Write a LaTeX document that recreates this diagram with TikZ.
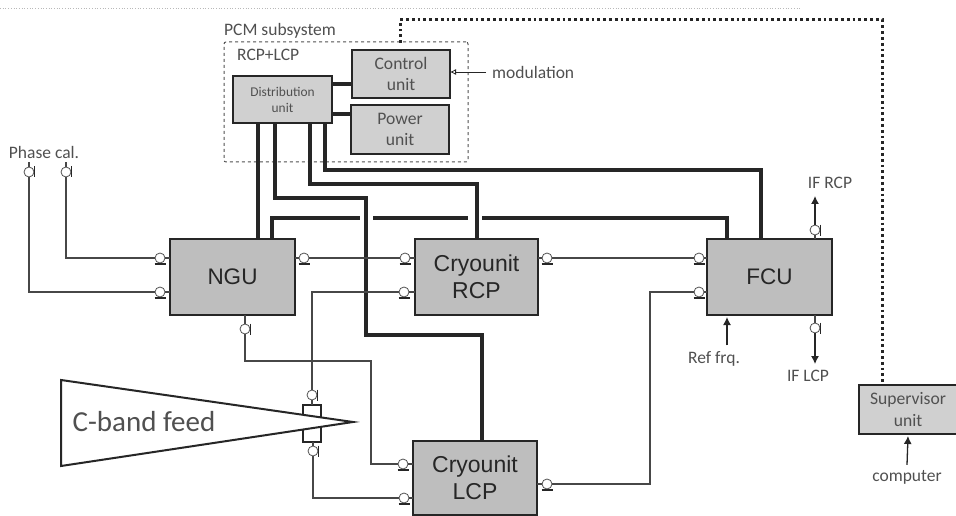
\documentclass[tikz,border=0pt]{standalone}
\usepackage{fontspec}
\setmainfont{Carlito}
\newfontfamily\boxfont{Liberation Sans}
\usetikzlibrary{arrows.meta,positioning,calc}
\definecolor{unitfill}{RGB}{190,190,190}
\definecolor{subfill}{RGB}{208,208,208}
\definecolor{inkdark}{RGB}{38,38,38}
\definecolor{labelgray}{RGB}{80,80,80}

\begin{document}
\begin{tikzpicture}[x=1pt,y=-1pt,
  unit/.style={draw=inkdark, fill=unitfill, line width=2.5pt, outer sep=0pt, align=center,
               font=\boxfont\fontsize{23}{27}\selectfont, text=inkdark, minimum height=76pt, minimum width=125pt},
  subunit/.style={draw=inkdark, fill=subfill, line width=2.5pt, outer sep=0pt, align=center,
               font=\fontsize{17.6}{21.5}\selectfont, text=labelgray, minimum height=48pt, minimum width=98pt},
  lbl/.style={font=\fontsize{17.5}{20}\selectfont, text=labelgray, inner sep=0pt},
  port/.style={circle, draw=inkdark!80, fill=white, line width=.8pt, inner sep=0pt, minimum size=10pt},
  portbar/.style={draw=inkdark, line width=1.3pt},
  bus/.style={draw=inkdark, line width=4pt, line join=miter},
  sig/.style={draw=inkdark!85, line width=1.3pt},
  arr/.style={-{Latex[length=8pt,width=8pt]}, draw=inkdark, line width=1.3pt}
]
  \useasboundingbox (0,0) rectangle (956,516);
  \draw[gray!55, line width=.7pt, dotted] (0,8) -- (800,8);

  % subsystem
  \node[draw=labelgray, dashed, line width=1pt, rounded corners=2pt, minimum width=244pt, minimum height=120pt] (pcm) at (346,102) {};
  \node[lbl, anchor=west] (pcmtxt) at (224,31) {PCM subsystem};
  \node[lbl, anchor=west] (rcplcp) at (237,55) {RCP+LCP};
  \node[subunit, minimum width=99pt, minimum height=47pt, font=\fontsize{13.4}{16}\selectfont] (dist) at (282.5,99.5) {Distribution\\unit};
  \node[subunit, right=20pt of dist, yshift=25.5pt] (ctrl) {Control\\unit};
  \node[subunit, below=7pt of ctrl, minimum height=49pt, xshift=-1pt] (power) {Power\\unit};
  \node[lbl, anchor=west] (modu) at (492,72) {modulation};

  % main units
  \node[unit, font=\boxfont\fontsize{22.5}{27}\selectfont] (ngu) at (232.5,277) {NGU};
  \node[unit, right=120pt of ngu, minimum width=123pt] (rcp) {Cryounit\\RCP};
  \node[unit, right=169pt of rcp, font=\boxfont\fontsize{22.5}{27}\selectfont] (fcu) {FCU};
  \node[unit, below=126pt of rcp, xshift=-1.5pt, minimum width=124pt, minimum height=74pt] (lcp) {Cryounit\\LCP};
  \node[subunit, minimum width=98pt, minimum height=49pt] (sup) at (908,409.5) {Supervisor\\unit};

  % feed
  \node[draw=inkdark, line width=2pt, minimum width=18pt, minimum height=37pt, outer sep=0pt] (coupler) at (312,423.5) {};
  \draw[draw=inkdark, line width=2pt, fill=white] (61,380) -- (353,422) -- (61,466) -- cycle;
  \node[lbl, font=\fontsize{29}{32}\selectfont] (feed) at (144,422) {C-band feed};

  % ports
  \foreach \pname/\px/\py in {nguA/160/258, nguB/160/292, nguC/304/258, rcpA/405/258, rcpB/404/292,
                              rcpC/547/258, fcuA/699/258, fcuB/699/292, lcpA/403/464, lcpB/404/498, lcpC/547/484} {
    \node[port] (\pname) at (\px,\py) {};
    \draw[portbar] ([shift={(-5.5pt,-6pt)}]\pname.center) -- ([shift={(5.5pt,-6pt)}]\pname.center);
  }
  \foreach \pname/\px/\py in {phaseA/29/172, phaseB/66/172, nguD/245/329, feedA/312/395, feedB/313/451, fcuC/815/230, fcuD/815/328} {
    \node[port] (\pname) at (\px,\py) {};
    \draw[portbar] ([shift={(5.5pt,5.5pt)}]\pname.center) -- ([shift={(5.5pt,-5.5pt)}]\pname.center);
  }

  % labels
  \node[lbl] (phasetxt) at (44,152) {Phase cal.};
  \node[lbl] (iflcp) at (808,376) {IF LCP};
  \node[lbl] (ifrcp) at (830,183) {IF RCP};
  \node[lbl] (reffrq) at (714,359) {Ref frq.};
  \node[lbl] (comp) at (907,477) {computer};

  % thick lines
  \coordinate (tapA) at ([xshift=-24.5pt]dist.south);
  \coordinate (tapB) at ([xshift=-7.5pt]dist.south);
  \coordinate (tapC) at ([xshift=27.5pt]dist.south);
  \coordinate (tapD) at ([xshift=42.5pt]dist.south);
  \coordinate (nguin) at ([xshift=39.5pt]ngu.north);
  \coordinate (fcuinA) at ([xshift=-42.5pt]fcu.north);
  \coordinate (fcuinB) at ([xshift=-8.5pt]fcu.north);
  \coordinate (lcpin) at ([xshift=7pt]lcp.north);
  \coordinate (gapA) at (360,218);
  \coordinate (gapB) at (373,218);
  \coordinate (gapC) at (468,218);
  \coordinate (gapD) at (482,218);
  \draw[bus] (tapA) -- (tapA |- ngu.north);
  \draw[bus] (tapB) |- (366,198) -- (366,335) -| (lcpin);
  \draw[bus] (tapC) |- (476,184) -| (rcp.north);
  \draw[bus] (tapD) |- (761,170) -| (fcuinB);
  \draw[bus] (nguin) |- (gapA);
  \draw[bus] (gapB) -- (gapC);
  \draw[bus] (gapD) -| (fcuinA);
  \draw[bus] (dist.east |- 0,84) -- (ctrl.west |- 0,84);
  \draw[bus] (dist.east |- 0,114) -- (power.west |- 0,114);

  % thin lines
  \draw[sig] (phaseA.north) -- ++(0,-5);
  \draw[sig] (phaseB.north) -- ++(0,-5);
  \draw[sig] (phaseA.south) |- (nguB.west);
  \draw[sig] (phaseB.south) |- (nguA.west);
  \draw[sig] (nguA.east) -- (nguA -| ngu.west);
  \draw[sig] (nguB.east) -- (nguB -| ngu.west);
  \draw[sig] (nguC.west) -- (nguC -| ngu.east);
  \draw[sig] (nguC.east) -- (rcpA.west);
  \draw[sig] (rcpA.east) -- (rcpA -| rcp.west);
  \draw[sig] (rcpB.east) -- (rcpB -| rcp.west);
  \draw[sig] (rcpB.west) -| (feedA.north);
  \draw[sig] (feedA.south) -- (feedA |- coupler.north);
  \draw[sig] (feedB.north) -- (feedB |- coupler.south);
  \draw[sig] (feedB.south) |- (lcpB.west);
  \draw[sig] (lcpB.east) -- (lcpB -| lcp.west);
  \draw[sig] (nguD.north) -- (nguD |- ngu.south);
  \draw[sig] (nguD.south) |- (371,361) |- (lcpA.west);
  \draw[sig] (lcpA.east) -- (lcpA -| lcp.west);
  \draw[sig] (lcpC.west) -- (lcpC -| lcp.east);
  \draw[sig] (lcpC.east) -| (650,292) -- (fcuB.west);
  \draw[sig] (fcuB.east) -- (fcuB -| fcu.west);
  \draw[sig] (rcpC.west) -- (rcpC -| rcp.east);
  \draw[sig] (rcpC.east) -- (fcuA.west);
  \draw[sig] (fcuA.east) -- (fcuA -| fcu.west);
  \draw[sig] (fcuC.south) -- (fcuC |- fcu.north);
  \draw[sig] (fcuD.north) -- (fcuD |- fcu.south);
  \coordinate (ifrcpend) at ([yshift=-7pt]fcuC |- ifrcp.south);
  \coordinate (iflcpend) at ([yshift=6pt]fcuD |- iflcp.north);
  \coordinate (reffrqend) at ([yshift=6pt]fcuinA |- reffrq.north);
  \draw[arr] (fcuC.north) -- (ifrcpend);
  \draw[arr] (fcuD.south) -- (iflcpend);
  \draw[arr] (reffrqend) -- ([xshift=-42.5pt,yshift=-2pt]fcu.south);
  \draw[arr] ([yshift=5pt]comp.north) -- ([yshift=-2pt]sup.south);
  \draw[-{Latex[open,length=6pt,width=6pt]}, draw=inkdark, line width=.8pt] (modu.west) ++(-6,0) -- (ctrl.east |- modu);

  % control line
  \coordinate (pcmtop) at (400,43);
  \coordinate (supin) at ([xshift=-26pt]sup.north);
  \draw[draw=inkdark, line width=3pt, dash pattern=on 2.8pt off 3pt] (pcmtop) |- (supin |- 0,20) -- (supin);
\end{tikzpicture}
\end{document}
